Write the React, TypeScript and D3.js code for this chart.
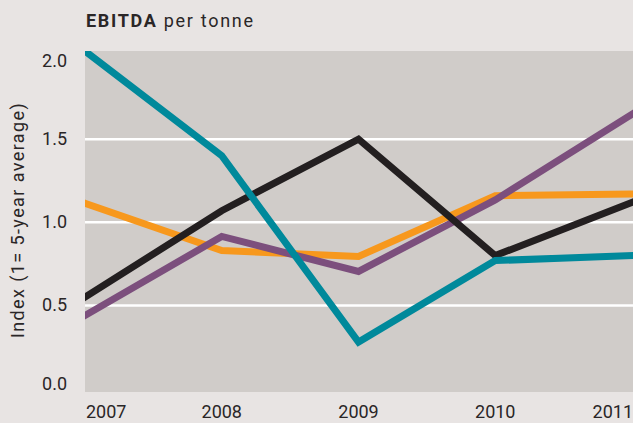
import React from "react";
import * as d3 from "d3";

const years = [2007, 2008, 2009, 2010, 2011];
const yTicks = [0, 0.5, 1.0, 1.5, 2.0];
const gridTicks = [0.5, 1.0, 1.5];
const teal = [2.03, 1.4, 0.28, 0.77, 0.8];
const black = [0.55, 1.07, 1.5, 0.8, 1.12];
const orange = [1.115, 0.83, 0.795, 1.16, 1.17];
const purple = [0.44, 0.915, 0.705, 1.135, 1.65];

const seriesList = [
  { name: "orange", values: orange, color: "#f7981d" },
  { name: "purple", values: purple, color: "#7c4f7d" },
  { name: "black", values: black, color: "#231f20" },
  { name: "teal", values: teal, color: "#00899b" },
];

const W = 633;
const H = 423;
const plotLeft = 85;
const plotTop = 51;
const plotBottom = 392;

export default function App() {
  const x = d3.scaleLinear().domain([2007, 2011]).range([85, 632]);
  const y = d3.scaleLinear().domain([-0.02, 2.03]).range([plotBottom, plotTop]);
  const line = d3
    .line<number>()
    .x((_, i) => x(years[i]))
    .y((d) => y(d));
  const font = "Roboto, 'DejaVu Sans', sans-serif";
  const textColor = "#2a2627";
  return (
    <svg
      width={W}
      height={H}
      style={{ position: "absolute", left: 0, top: 0, display: "block" }}
    >
      <defs>
        <clipPath id="plotClip">
          <rect x={plotLeft} y={plotTop} width={W - plotLeft} height={plotBottom - plotTop} />
        </clipPath>
      </defs>
      <rect x={0} y={0} width={W} height={H} fill="#e8e4e3" />
      <rect
        x={plotLeft}
        y={plotTop}
        width={W - plotLeft}
        height={plotBottom - plotTop}
        fill="#d0ccc9"
      />
      {gridTicks.map((t) => (
        <line
          key={t}
          x1={plotLeft}
          x2={W}
          y1={y(t)}
          y2={y(t)}
          stroke="#ffffff"
          strokeWidth={2.5}
        />
      ))}
      <g clipPath="url(#plotClip)">
        {seriesList.map((s) => (
          <path
            key={s.name}
            d={line(s.values) || ""}
            fill="none"
            stroke={s.color}
            strokeWidth={7}
            strokeLinejoin="miter"
            strokeLinecap="square"
          />
        ))}
      </g>
      {yTicks.map((t, i) => (
        <text
          key={t}
          x={67}
          y={y(t) + (i === 0 ? -5 : i === yTicks.length - 1 ? 5 : -1)}
          dominantBaseline="central"
          textAnchor="end"
          fontFamily={font}
          fontSize={18}
          fill={textColor}
        >
          {t.toFixed(1)}
        </text>
      ))}
      {years.map((yr, i) => (
        <text
          key={yr}
          x={x(yr) + (i === 0 ? 1 : i === years.length - 1 ? 1 : 0)}
          y={418}
          textAnchor={i === 0 ? "start" : i === years.length - 1 ? "end" : "middle"}
          fontFamily={font}
          fontSize={18}
          fill={textColor}
        >
          {yr}
        </text>
      ))}
      <text
        transform={`translate(24, ${220}) rotate(-90)`}
        textAnchor="middle"
        fontFamily={font}
        fontSize={18}
        letterSpacing={1.4}
        fill={textColor}
      >
        Index (1= 5-year average)
      </text>
      <text x={86} y={27} fontFamily={font} fontSize={18} letterSpacing={1.7} fill={textColor}>
        <tspan fontWeight="bold">EBITDA</tspan>
        <tspan> per tonne</tspan>
      </text>
    </svg>
  );
}
